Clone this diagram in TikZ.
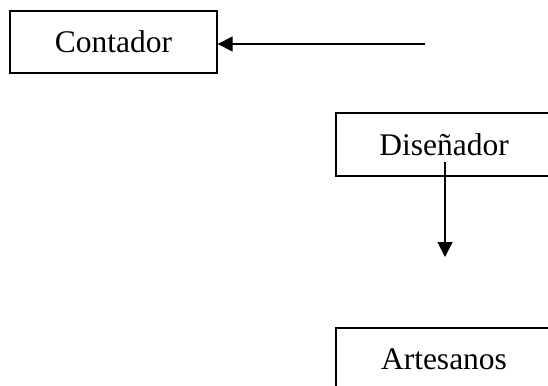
\documentclass[tikz,border=0pt]{standalone}
\usepackage{fontspec}
\setmainfont{Liberation Serif}
\usetikzlibrary{arrows.meta}
\begin{document}
\begin{tikzpicture}[x=1pt,y=-1pt,
  box/.style={draw, line width=1.3pt, inner sep=0pt, font=\fontsize{31.5}{36}\selectfont},
  conn/.style={line width=1.2pt, -{Triangle[length=15pt,width=15pt]}}]
\useasboundingbox (0,0) rectangle (548,385);
\clip (0,0) rectangle (548,385);
\node[box, minimum width=207pt, minimum height=62pt] (contador) at (113.5,42) {Contador};
\node[box, minimum width=216pt, minimum height=63pt] (disenador) at (444,144.5) {Diseñador};
\node[box, minimum width=216pt, minimum height=63pt] (artesanos) at (444,359.5) {Artesanos};
\coordinate (h0) at (425,44);
\coordinate (v0) at (445,162);
\coordinate (v1) at (445,257);
\draw[conn] (h0) -- (contador.east |- h0);
\draw[conn] (v0) -- (v1);
\end{tikzpicture}
\end{document}
